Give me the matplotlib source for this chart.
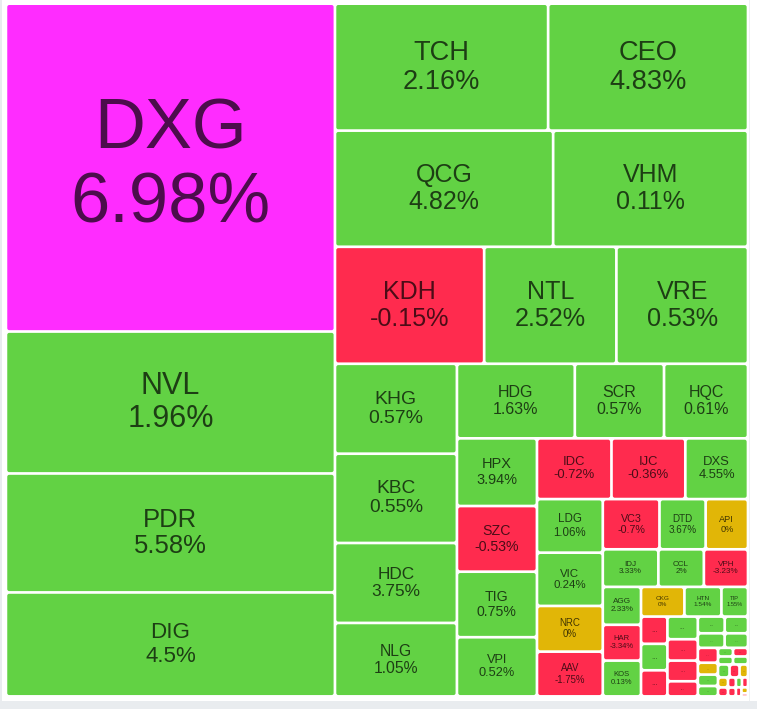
import numpy as np
import matplotlib
matplotlib.use("Agg")
import matplotlib.pyplot as plt
from matplotlib.patches import FancyBboxPatch, Rectangle

# ---------------- data ----------------
tickers = ["DXG", "NVL", "PDR", "DIG", "TCH", "CEO", "QCG", "VHM", "KDH", "NTL", "VRE",
           "KHG", "KBC", "HDC", "NLG", "HDG", "SCR", "HQC", "HPX", "SZC", "TIG", "VPI",
           "IDC", "IJC", "DXS", "LDG", "VIC", "NRC", "AAV", "VC3", "DTD", "API",
           "IDJ", "CCL", "VPH", "AGG", "HAR", "KOS", "CKG", "HTN", "TIP"]
changes = [6.98, 1.96, 5.58, 4.5, 2.16, 4.83, 4.82, 0.11, -0.15, 2.52, 0.53,
           0.57, 0.55, 3.75, 1.05, 1.63, 0.57, 0.61, 3.94, -0.53, 0.75, 0.52,
           -0.72, -0.36, 4.55, 1.06, 0.24, 0, -1.75, -0.7, 3.67, 0,
           3.33, 2, -3.23, 2.33, -3.34, 0.13, 0, 1.54, 1.55]
sizes = [10798, 4675, 3918, 3424, 2709, 2540, 2537, 2266, 1747, 1548, 1541,
         1098, 1090, 976, 897, 880, 666, 627, 542, 526, 525, 474,
         453, 449, 381, 353, 351, 301, 295, 285, 232, 213,
         209, 171, 166, 145, 137, 137, 129, 110, 79]

# small cells whose labels are hidden ("...") in the picture
tail_sizes = [72, 70, 69, 69, 65, 63, 46, 45, 39, 39, 34, 30, 24, 23, 21,
              13, 13, 12, 12, 15, 13, 11, 10, 9, 8, 7, 6, 6, 5, 4, 2]
tail_changes = [-1.2, 0.9, -2.1, 1.1, -0.8, -1.5, -0.6, 0.7, 1.3, 0.5, 0.4,
                -1.9, 0, 0.6, 0.3, 0.8, -1.1, 0.2, 0.9,
                0.4, -0.9, 0, 0, -0.5, -1.4, -0.7, 0.6, -0.3, -2.2, 0, -1.0]

# number of cells in each strip of the layout (rest: squarified)
strip_counts = [4, 2, 2, 3, 4, 3, 4, 3, 4, 3, 3, 3, 3, 3, 4, 2, 2, 4, 2, 2]

all_sizes = sizes + tail_sizes
all_changes = changes + tail_changes
all_tickers = tickers + [None] * len(tail_sizes)

# ---------------- layout ----------------
def worst(row, L):
    s = row.sum()
    return max(L * L * row.max() / (s * s), s * s / (L * L * row.min()))


def strip_layout(values, x0, y0, x1, y1, counts):
    vals = np.asarray(values, float)
    areas = vals * (x1 - x0) * (y1 - y0) / vals.sum()
    rects = []
    i, si, n = 0, 0, len(areas)
    while i < n:
        dx, dy = x1 - x0, y1 - y0
        vertical = dx >= dy
        L = dy if vertical else dx
        if si < len(counts):
            k = counts[si]
            si += 1
        else:
            k = 1
            while i + k < n and worst(areas[i:i + k + 1], L) <= worst(areas[i:i + k], L):
                k += 1
        row = areas[i:i + k]
        t = row.sum() / L
        pos = y0 if vertical else x0
        for a in row:
            ln = a / t
            if vertical:
                rects.append((x0, pos, x0 + t, pos + ln))
            else:
                rects.append((pos, y0, pos + ln, y0 + t))
            pos += ln
        if vertical:
            x0 += t
        else:
            y0 += t
        i += k
    return rects


def cell_color(c):
    if c >= 6.9:
        return "#FF2CFF"
    if c > 0:
        return "#62D244"
    if c < 0:
        return "#FF2B4E"
    return "#E1B607"


W, H = 757, 709
fig = plt.figure(figsize=(W / 100, H / 100), dpi=100)
ax = fig.add_axes([0, 0, 1, 1])
ax.set_xlim(0, W)
ax.set_ylim(H, 0)
ax.axis("off")

# page frame
ax.add_patch(Rectangle((0, 700.5), W, H - 700.5, color="#E9ECEF", lw=0))
ax.add_patch(Rectangle((0, 0), 1.6, 700.5, color="#E9ECEF", lw=0))
ax.add_patch(Rectangle((748.8, 0), 1.4, 700.5, color="#EEF0F2", lw=0))

rects = strip_layout(all_sizes, 5.9, 3.65, 748.0, 696.4, strip_counts)

gap = 1.35
for (x0, y0, x1, y1), tk, ch in zip(rects, all_tickers, all_changes):
    w, h = x1 - x0, y1 - y0
    rw, rh = max(w - 2 * gap, 0.5), max(h - 2 * gap, 0.5)
    rs = min(2.0, 0.3 * min(rw, rh))
    ax.add_patch(FancyBboxPatch((x0 + gap, y0 + gap), rw, rh,
                                boxstyle=f"round,pad=0,rounding_size={rs}",
                                fc=cell_color(ch), ec="none"))
    m = min(w, h)
    fs = 0.215 * m * 0.72
    cx, cy = (x0 + x1) / 2, (y0 + y1) / 2
    if tk is not None:
        label = f"{tk}\n{ch:g}%"
        ax.text(cx, cy, label, ha="center", va="center", fontsize=fs,
                linespacing=1.15, family="Liberation Sans",
                color=(0, 0, 0, 0.7))
    elif m >= 8:
        ax.text(cx, cy, "...", ha="center", va="center", fontsize=max(0.3 * m * 0.72, 2.5),
                family="Liberation Sans", color=(0, 0, 0, 0.55))

fig.savefig("out.png", dpi=100)
